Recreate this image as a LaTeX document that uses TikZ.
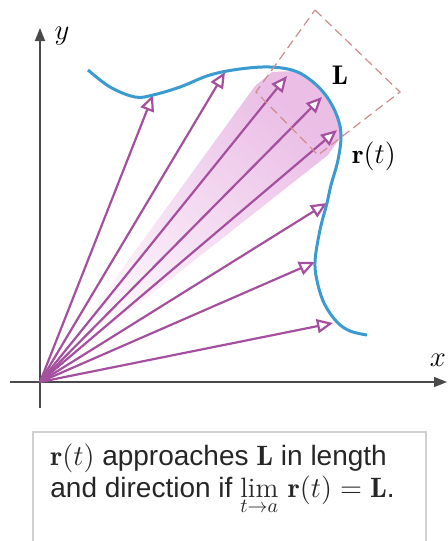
\documentclass[tikz,border=0pt]{standalone}
\usepackage{fontspec}
\setsansfont{Liberation Sans}
\usetikzlibrary{arrows.meta}
\definecolor{curveC}{HTML}{3A9BD0}
\definecolor{vecC}{HTML}{A4509E}
\definecolor{glowC}{HTML}{E2A2DC}
\definecolor{boxC}{HTML}{D0D0D0}
\definecolor{rectC}{HTML}{D08C8C}
\definecolor{axisC}{HTML}{4A4A4A}
\begin{document}
\begin{tikzpicture}[x=0.5pt,y=-0.5pt,
  axis/.style={draw=axisC,line width=0.8pt,-{Triangle[length=6.5pt,width=5pt]}},
  vec/.style={draw=vecC,line width=1.1pt,-{Triangle[length=8pt,width=7pt,fill=white]}},
  lbl/.style={font=\fontsize{13.5}{16}\selectfont,inner sep=0pt},
  capline/.style={font=\sffamily\fontsize{14}{16}\selectfont,text=black!85,inner sep=0pt,anchor=base west}]
\useasboundingbox (0,0) rectangle (448,541);
\clip (0,0) rectangle (448,541);
\coordinate (O) at (40,382);
\coordinate (ytop) at (40,28);
\coordinate (ybot) at (40,408);
\coordinate (xleft) at (10,382);
\coordinate (xright) at (447,382);
\coordinate (t1) at (153,95);
\coordinate (t2) at (225,72);
\coordinate (t3) at (287,76);
\coordinate (t4) at (322,97);
\coordinate (t5) at (337,130);
\coordinate (t6) at (327,203);
\coordinate (t7) at (315,262);
\coordinate (t8) at (333,323);
\shade[top color=glowC!70,middle color=glowC!18,bottom color=white,shading angle=-41]
  (O) -- (255,86) -- (272,72) -- (295,71) -- (313,82) -- (328,97) -- (338,115) -- (342,135) -- (328,155) -- cycle;
\draw[axis] (ybot) -- (ytop);
\draw[axis] (xleft) -- (xright);
\node[lbl] (ylab) at (62,36) {$y$};
\node[lbl] (xlab) at (438,360) {$x$};
\foreach \t in {t1,t2,t3,t4,t5,t6,t7,t8}
  \draw[vec] (O) -- (\t);
\draw[curveC,line width=1.5pt] plot[smooth,tension=0.6] coordinates {(88,70) (110,87) (135,97) (153,95) (180,87) (210,75) (240,69) (270,67) (295,71) (313,82) (327,97) (337,116) (341,135) (338,160) (331,185) (327,203) (320,230) (315,262) (318,285) (325,305) (337,322) (350,331) (367,335)};
\draw[rectC,line width=0.6pt,dash pattern=on 4.5pt off 2.5pt] (315,10) -- (400,92) -- (318,155) -- (256,92) -- cycle;
\node[lbl] (L) at (340,75) {$\mathbf{L}$};
\node[lbl] (rt) at (374,156) {$\mathbf{r}(t)$};
\draw[boxC,line width=0.8pt,fill=white] (33,432) rectangle (426,560);
\node[capline] (cap1) at (50,465) {$\mathbf{r}(t)$ approaches $\mathbf{L}$ in length};
\node[capline] (cap2) at (50,497) {and direction if $\lim\limits_{t\to a}\,\mathbf{r}(t)=\mathbf{L}$.};
\end{tikzpicture}
\end{document}
